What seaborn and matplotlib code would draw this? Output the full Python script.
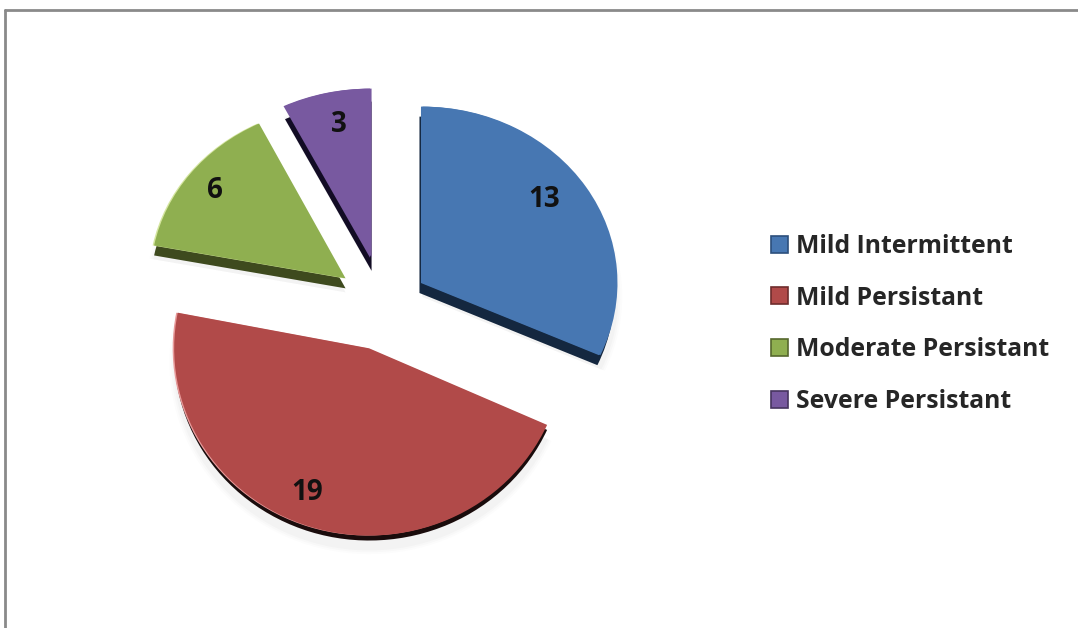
import matplotlib
matplotlib.use("Agg")
import matplotlib.pyplot as plt
import seaborn as sns
from matplotlib.lines import Line2D
from matplotlib.transforms import Affine2D

categories = ["Mild Intermittent", "Mild Persistant", "Moderate Persistant", "Severe Persistant"]
values = [13, 19, 6, 3]
colors = ["#4777B2", "#B14A49", "#8FAF50", "#7859A0"]
side_colors = ["#14273F", "#1A0C0C", "#3E4A1E", "#120C24"]
rim_colors = ["#4777B2", "#E89A9A", "#D5E6A0", "#7859A0"]
legend_edges = ["#2C4F7C", "#6E2C2C", "#56682E", "#46345F"]
explode = [0.235, 0.235, 0.235, 0.235]
depth_px = [10, 5, 10, 13]
side_dx_px = [-3, 0, 0, 0]
label_dist = [0.80, 0.84, 0.83, 0.70]
label_nudge_px = [(-8, -7), (-13, 0), (-3, -1), (-3, -20)]
slice_nudge_px = [(1, -2), (0, 0), (-1, -4), (-1, -9)]
slice_yscale = [0.98, 1.04, 0.96, 0.94]

W, H = 1078, 628
CX, CY, RX, RY = 383, 308, 195, 180

sns.set_theme(style="white")
plt.rcParams["font.family"] = ["Open Sans", "DejaVu Sans"]

fig = plt.figure(figsize=(W / 100, H / 100), dpi=100, facecolor="white")
ax = fig.add_axes([0, 0, 1, 1])

common = dict(startangle=90, counterclock=False, explode=explode)


def place(wedges, dx=None, dy=None):
    """Shift each slice by a pixel offset and squash it about its own apex."""
    for i, w in enumerate(wedges):
        cx, cy = w.center
        s = slice_yscale[i]
        nx, ny = slice_nudge_px[i]
        ox = nx + (dx[i] if dx else 0)
        oy = ny + (dy[i] if dy else 0)
        new_x, new_y = cx + ox / RX, cy - oy / RY
        w.set_center((new_x, new_y))
        w.set_transform(Affine2D().translate(-new_x, -new_y).scale(1, s)
                        .translate(new_x, new_y) + ax.transData)


# soft drop shadow
for extra, alpha in [(0.025, 0.012), (0.015, 0.016), (0.005, 0.02)]:
    sh, _ = ax.pie(values, colors=["black"] * 4, radius=1.0 + extra,
                   wedgeprops=dict(alpha=alpha, linewidth=0), **common)
    place(sh, dy=[14] * 4)

# extruded side
sides, _ = ax.pie(values, colors=side_colors, radius=1.0, wedgeprops=dict(linewidth=0), **common)
place(sides, dx=side_dx_px, dy=depth_px)

# pale rim along the lit edge
rims, _ = ax.pie(values, colors=rim_colors, radius=1.0, wedgeprops=dict(linewidth=0), **common)
place(rims, dx=[-1.5] * 4)

# top face
tops, _, autos = ax.pie(values, colors=colors, radius=1.0, wedgeprops=dict(linewidth=0),
                        autopct=lambda p: f"{round(p * sum(values) / 100)}",
                        pctdistance=0.8,
                        textprops=dict(fontsize=20, fontweight="bold", color="#111111"),
                        **common)
for t, w, d, (nx, ny) in zip(autos, tops, label_dist, label_nudge_px):
    cx, cy = w.center
    x, y = t.get_position()
    t.set_position((cx + (x - cx) * d / 0.8 + nx / RX, cy + (y - cy) * d / 0.8 - ny / RY))
place(tops)

ax.set_aspect("auto")
ax.set_xlim(-CX / RX, (W - CX) / RX)
ax.set_ylim(-(H - CY) / RY, CY / RY)
ax.axis("off")

handles = [plt.Rectangle((0, 0), 1, 1, facecolor=c, edgecolor=e, linewidth=1.2)
           for c, e in zip(colors, legend_edges)]
fig.legend(handles, categories, loc="center left", bbox_to_anchor=(771 / W, 1 - 324 / H),
           frameon=False, handlelength=0.68, handleheight=0.68,
           handletextpad=0.33, labelspacing=1.08, borderpad=0, borderaxespad=0,
           prop=dict(family="Open Sans", weight="bold", size=17.85))

# outer frame of the picture
fig.add_artist(Line2D([5 / W, 5 / W], [0, 1 - 10 / H], color="#8A8A8A", lw=2))
fig.add_artist(Line2D([5 / W, 1], [1 - 10 / H, 1 - 10 / H], color="#8A8A8A", lw=2))

fig.savefig("out.png", dpi=100)
